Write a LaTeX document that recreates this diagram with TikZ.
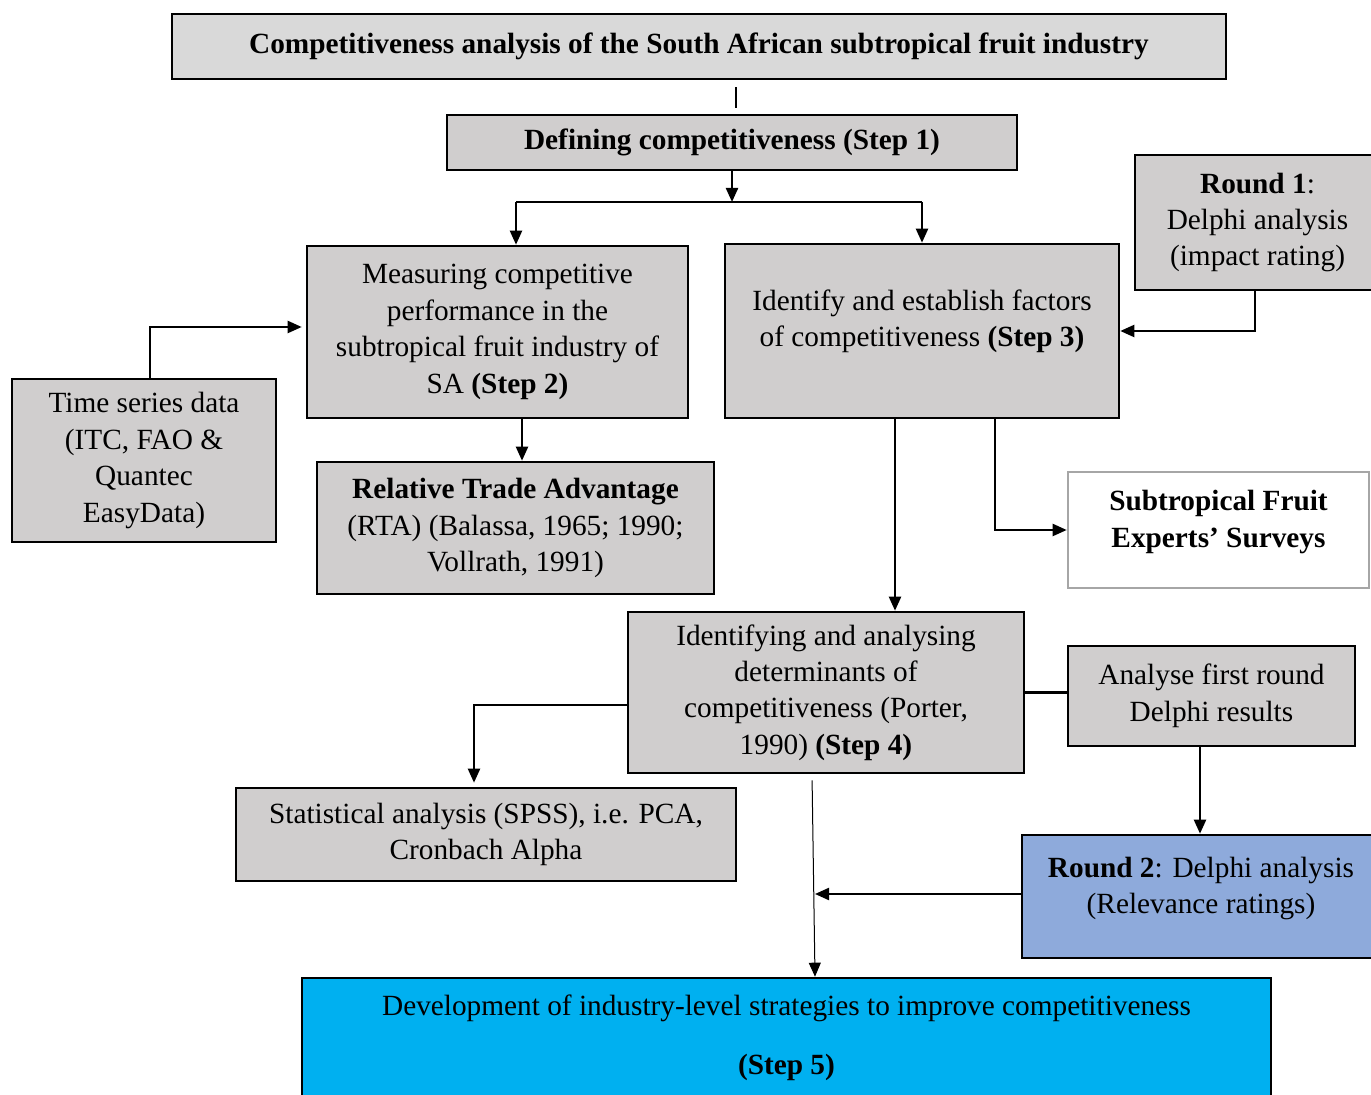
\documentclass[tikz,border=0pt]{standalone}
\usepackage{fontspec}
\setmainfont{Liberation Serif}
\usetikzlibrary{arrows.meta,calc}
\definecolor{boxgray}{HTML}{D0CECE}
\definecolor{titlegray}{HTML}{D9D9D9}
\definecolor{roundblue}{HTML}{8EAADB}
\definecolor{stepcyan}{HTML}{00B0F0}
\definecolor{lightedge}{HTML}{A6A6A6}
\newcommand\diagfont{\fontsize{14.65}{18.2}\selectfont}

\begin{document}
\begin{tikzpicture}[x=0.5pt,y=-0.5pt,
  box/.style={draw=black, line width=1.3pt, fill=boxgray, inner sep=0pt,
              align=center, font=\diagfont},
  txt/.style={inner sep=0pt, align=center, font=\diagfont},
  arr/.style={line width=1.1pt, -{Triangle[length=7pt,width=6pt]}},
  link/.style={line width=1.1pt},
  thinarr/.style={line width=0.5pt, -{Triangle[length=7pt,width=6pt]}}]

\useasboundingbox (0,0) rectangle (1371,1095);

% boxes
\node[box, fill=titlegray, minimum width=527pt, minimum height=32.5pt] (title) at (699,46.5)
  {\textbf{Competitiveness analysis of the South African subtropical fruit industry}};
\node[box, minimum width=285pt, minimum height=27.5pt] (s1) at (732,142.5)
  {\textbf{Defining competitiveness (Step 1)}};
\node[box, minimum width=190.5pt, minimum height=86pt] (s2) at (497.5,332)
  {Measuring competitive\\performance in the\\subtropical fruit industry of\\SA \textbf{(Step 2)}};
\node[box, minimum width=197pt, minimum height=87pt] (s3) at (922,331) {};
\node[txt] (s3txt) at (922,321.5)
  {Identify and establish factors\\of competitiveness \textbf{(Step 3)}};
\node[box, minimum width=122.5pt, minimum height=67.5pt] (r1) at (1257.5,222.5)
  {\textbf{Round 1}:\\Delphi analysis\\(impact rating)};
\node[box, minimum width=132pt, minimum height=81.5pt] (ts) at (144,460.5)
  {Time series data\\(ITC, FAO \&\\Quantec\\EasyData)};
\node[box, minimum width=198.5pt, minimum height=66pt] (rta) at (515.5,528)
  {\textbf{Relative Trade Advantage}\\(RTA) (Balassa, 1965; 1990;\\Vollrath, 1991)};
\node[box, fill=white, draw=lightedge, minimum width=150.5pt, minimum height=58pt] (ex) at (1218.5,530) {};
\node[txt] (extxt) at (1218.5,522) {\textbf{Subtropical Fruit}\\\textbf{Experts’ Surveys}};
\node[box, minimum width=198pt, minimum height=80.5pt] (s4) at (826,692.5)
  {Identifying and analysing\\determinants of\\competitiveness (Porter,\\1990) \textbf{(Step 4)}};
\node[box, minimum width=143.5pt, minimum height=50pt] (an) at (1211.5,696)
  {Analyse first round\\Delphi results};
\node[box, fill=roundblue, minimum width=179pt, minimum height=61.5pt] (r2) at (1201,896.5) {};
\node[txt] (r2txt) at (1201,888.5) {\textbf{Round 2}: Delphi analysis\\(Relevance ratings)};
\node[box, minimum width=250pt, minimum height=46.5pt] (stat) at (486,834.5)
  {Statistical analysis (SPSS), i.e. PCA,\\Cronbach Alpha};
\node[box, fill=stepcyan, minimum width=484.5pt, minimum height=61pt] (s5) at (786.5,1039) {};
\node[txt] (s5txt) at (786.5,1038)
  {Development of industry-level strategies to improve competitiveness\\[11pt]\textbf{(Step 5)}};

% connectors
\draw[link, shorten <=3.5pt, shorten >=3pt] ([xshift=18.5pt]title.south) -- ([xshift=2pt]s1.north);
\coordinate (split) at (732,202);
\coordinate (splitL) at (516,202);
\coordinate (splitR) at (922,202);
\draw[arr] (s1.south) -- (split);
\draw[link] (splitL) -- (splitR);
\draw[arr] (splitL) -- (splitL |- s2.north);
\draw[arr] (splitR) -- (s3.north);

\draw[arr] ([xshift=-1.25pt]r1.south) |- (s3.east);
\draw[arr] ([xshift=3pt]ts.north) |- ([yshift=2.5pt,xshift=-2pt]s2.west);

\coordinate (s2out) at ([xshift=12.25pt]s2.south);
\draw[arr] (s2out) -- (s2out |- rta.north);

\coordinate (s3outA) at ([xshift=36.5pt]s3.south);
\draw[arr] (s3outA) |- (ex.west);
\coordinate (s3outB) at ([xshift=-13.5pt]s3.south);
\draw[arr] (s3outB) -- (s3outB |- s4.north);

\draw[link] (s4.east) -- (s4.east -| an.west);
\coordinate (anout) at ([xshift=-5.75pt]an.south);
\draw[arr] (anout) -- (anout |- r2.north);

\draw[arr] ([yshift=-6.25pt]s4.west) -| ([xshift=-6pt,yshift=2pt]stat.north);

\draw[thinarr, shorten <=3pt] ([xshift=-7pt]s4.south) -- ([xshift=14.25pt]s5.north);
\coordinate (join) at (815,894);
\draw[arr] ([yshift=1.25pt]r2.west) -- (join);
\end{tikzpicture}
\end{document}
